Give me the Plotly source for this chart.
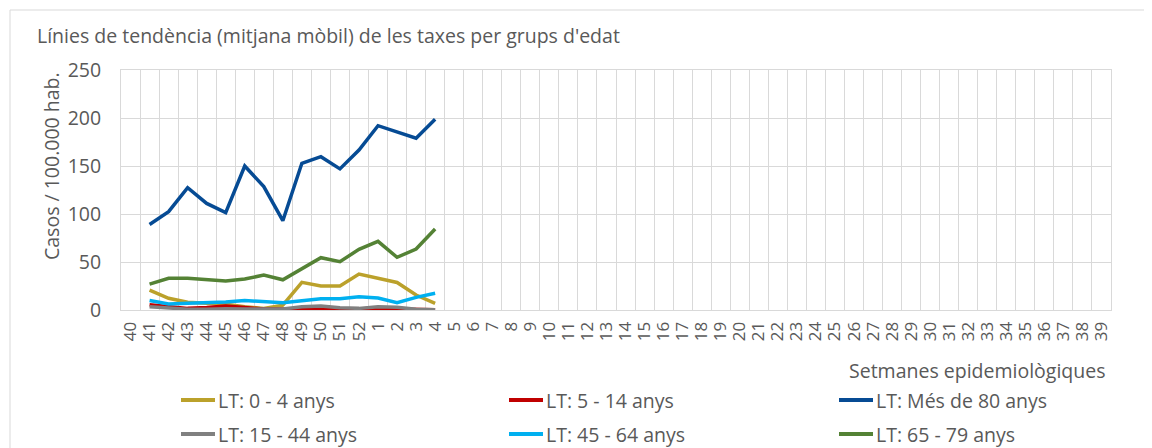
import plotly.graph_objects as go

weeks = [str(w) for w in list(range(40, 53)) + list(range(1, 40))]
data_weeks = [str(w) for w in list(range(41, 53)) + list(range(1, 5))]

lt_0_4 = [20.8, 12.2, 8, 7.3, 6, 3.5, 1.5, 5, 28.8, 25, 25, 37.5, 33.5, 28.7, 15.6, 7]
lt_5_14 = [5.5, 3.5, 1.7, 2.6, 4.2, 2.6, 1, 1, 0.3, 0.5, 0.5, 0.8, 1.7, 1, 0.3, 0.3]
lt_80 = [89, 102.4, 127.4, 111, 101.4, 150, 128.5, 93, 152.8, 159.7, 147, 166.7, 192, 185.8, 179, 198.6]
lt_15_44 = [3.5, 2.4, 0.8, 0.8, 1.4, 1, 0.8, 1, 3.5, 4.2, 2.4, 1.7, 3.5, 2.8, 0.7, 0.2]
lt_45_64 = [9.9, 6.2, 7, 7.6, 8.3, 9.8, 8.3, 7.6, 9.7, 11.8, 11.8, 13.9, 12.4, 7.6, 13.2, 17.4]
lt_65_79 = [27, 33, 33, 31.5, 30.2, 32.3, 36.3, 31.5, 43.4, 54.5, 50.3, 63.2, 71.5, 54.9, 63.5, 84.4]

names = ["LT: 0 - 4 anys", "LT: 5 - 14 anys", "LT: Més de 80 anys",
         "LT: 15 - 44 anys", "LT: 45 - 64 anys", "LT: 65 - 79 anys"]
values = [lt_0_4, lt_5_14, lt_80, lt_15_44, lt_45_64, lt_65_79]
colors = ["#BBA12B", "#C00000", "#064B94", "#808080", "#00B0F0", "#548235"]

# The page body has an 8px default margin; work in window pixels and compensate.
OFF = 8
WIN_W, WIN_H = 1152, 448
W, H = WIN_W - OFF, WIN_H - OFF
PL, PR, PT, PB = 121, 1111, 70, 310  # plot area in window pixels
L, T = PL - OFF, PT - OFF
R, B = WIN_W - PR, WIN_H - PB
pw, ph = PR - PL, PB - PT

def px(xp):
    return (xp - PL) / pw

def py(yp):
    return 1 - (yp - PT) / ph

font_family = "Open Sans, Noto Sans, sans-serif"
txt = "#595959"
grid = "#D9D9D9"
fs = 19.5

fig = go.Figure()
for name, vals, color in zip(names, values, colors):
    fig.add_trace(go.Scatter(
        x=data_weeks, y=vals, name=name, mode="lines",
        line=dict(color=color, width=3.5), showlegend=False,
    ))

fig.update_layout(
    width=W, height=H,
    margin=dict(l=L, r=R, t=T, b=B),
    paper_bgcolor="white", plot_bgcolor="white",
    font=dict(family=font_family, color=txt, size=18),
    xaxis=dict(
        type="category", categoryorder="array", categoryarray=weeks,
        tickmode="array", tickvals=weeks, ticktext=weeks,
        range=[-0.5, len(weeks) - 0.5], tickson="boundaries",
        showgrid=True, gridcolor=grid, gridwidth=1,
        showline=True, linecolor=grid, linewidth=1, mirror=True,
        ticks="", tickangle=-90, tickfont=dict(size=17, color=txt),
        ticklabelstandoff=4,
        zeroline=False, automargin=False,
    ),
    yaxis=dict(
        range=[0, 250], dtick=50, showgrid=True, gridcolor=grid, gridwidth=1,
        showline=True, linecolor=grid, linewidth=1, mirror=True,
        ticks="", tickfont=dict(size=fs, color=txt), zeroline=False,
        ticklabelstandoff=15, automargin=False,
    ),
    showlegend=False,
)

# Legend (2 rows x 3 columns), built from the trace names/colours
col_x = [181, 509, 839]
row_y = [400, 434]
for i, (name, color) in enumerate(zip(names, colors)):
    cx = col_x[i % 3]
    ry = row_y[i // 3]
    fig.add_shape(type="line", xref="paper", yref="paper",
                  x0=px(cx), x1=px(cx + 34), y0=py(ry), y1=py(ry),
                  line=dict(color=color, width=4))
    fig.add_annotation(text=name, xref="paper", yref="paper",
                       x=px(cx + 36), y=py(ry), xanchor="left", yanchor="middle",
                       showarrow=False, font=dict(size=fs, color=txt), borderpad=0)

fig.add_annotation(
    text="Línies de tendència (mitjana mòbil) de les taxes per grups d'edat",
    xref="paper", yref="paper", x=px(35), y=py(35), xanchor="left", yanchor="middle",
    showarrow=False, font=dict(size=fs, color=txt),
)
fig.add_annotation(
    text="Casos / 100.000 hab.", textangle=-90,
    xref="paper", yref="paper", x=px(51), y=py(166), xanchor="center", yanchor="middle",
    showarrow=False, font=dict(size=fs, color=txt),
)
fig.add_annotation(
    text="Setmanes epidemiològiques",
    xref="paper", yref="paper", x=px(1107), y=py(370), xanchor="right", yanchor="middle",
    showarrow=False, font=dict(size=fs, color=txt),
)
fig.add_shape(
    type="rect", xref="paper", yref="paper",
    x0=px(10), x1=px(1200), y0=py(10), y1=py(500),
    line=dict(color="#D9D9D9", width=1), fillcolor="rgba(0,0,0,0)", layer="below",
)

fig.write_html("out.html")
